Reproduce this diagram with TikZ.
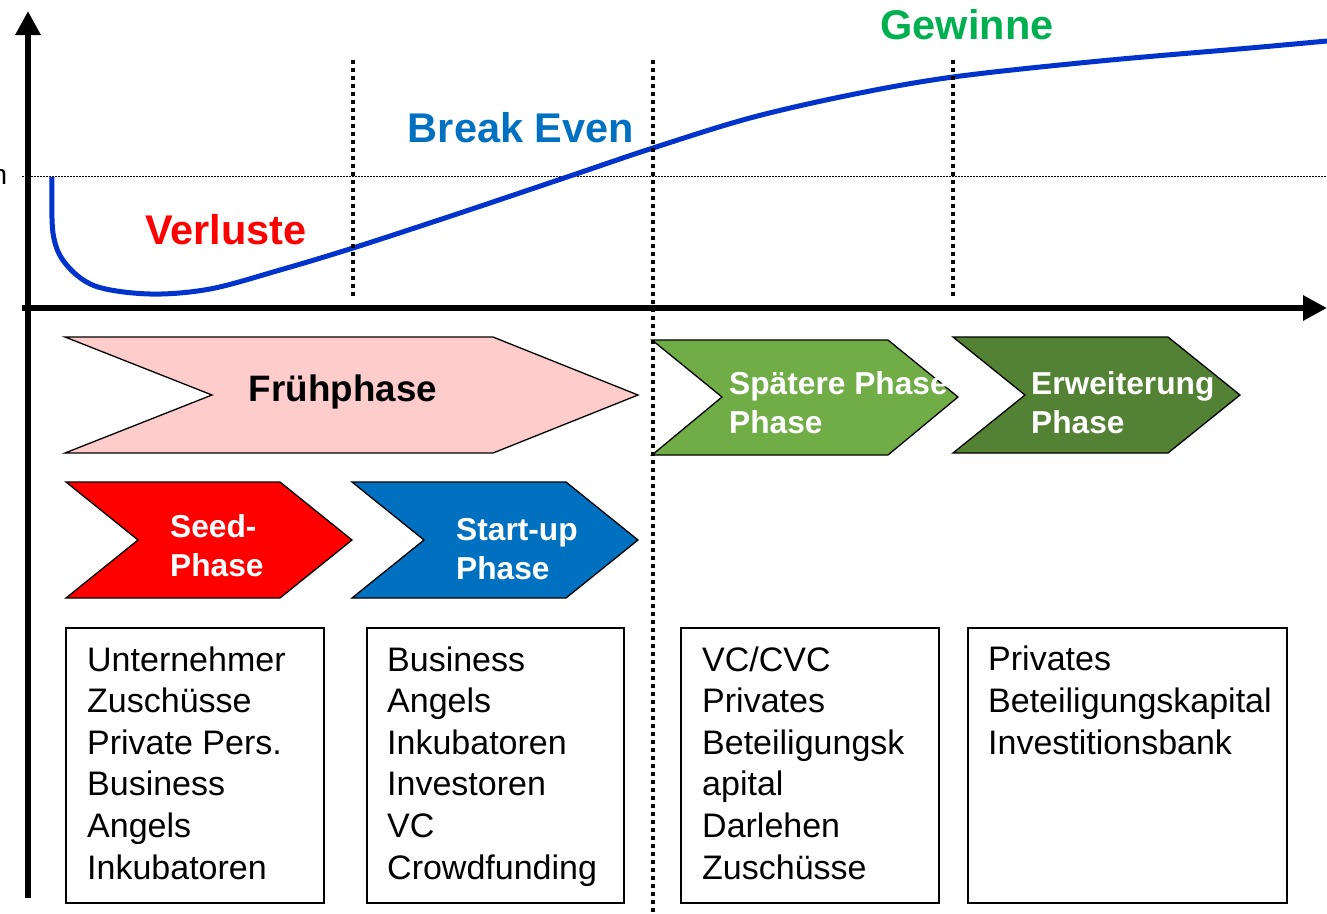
\documentclass[tikz,border=0pt]{standalone}
\usepackage{fontspec}
\setmainfont{Liberation Sans}
\usetikzlibrary{arrows.meta}
\definecolor{curveblue}{RGB}{0,51,204}
\definecolor{beblue}{RGB}{0,112,192}
\definecolor{gewgreen}{RGB}{0,176,80}
\definecolor{pinkfill}{RGB}{255,204,204}
\definecolor{spgreen}{RGB}{112,173,71}
\definecolor{ewgreen}{RGB}{84,130,53}
\definecolor{seedred}{RGB}{255,0,0}
\begin{document}
\begin{tikzpicture}[x=1pt,y=-1pt,
  chev/.style={draw=black,line width=1.3pt,line join=miter},
  lbl/.style={font=\bfseries\fontsize{41.5}{48}\selectfont, anchor=base, inner sep=0pt},
  chevtxt/.style={font=\bfseries\fontsize{31.7}{38.5}\selectfont, text=white, align=left, anchor=base west, inner sep=0pt},
  boxtxt/.style={font=\fontsize{34}{41.6}\selectfont, align=left, anchor=base west, inner sep=0pt},
  fund/.style={draw=black, line width=1.3pt},
  vdot/.style={line width=4pt, dash pattern=on 4pt off 4pt},
  axis/.style={line width=6pt, -{Triangle[length=24pt,width=24pt]}},
]
\useasboundingbox (0,0) rectangle (1327,913);

% dotted reference line
\coordinate (hl) at (22,176);
\coordinate (hr) at (1327,176);
\draw[line width=1pt, dash pattern=on 1.5pt off 1.5pt] (hl) -- (hr);
\node[font=\fontsize{28}{30}\selectfont, anchor=base east, inner sep=0pt] (ntxt) at (7.5,184) {n};

% axes
\coordinate (yb) at (28,898);
\coordinate (yt) at (28,11);
\coordinate (xl) at (22,308);
\coordinate (xr) at (1327,308);
\draw[axis] (yb) -- (yt);
\draw[axis] (xl) -- (xr);

% curve
\draw[line width=5pt, curveblue, line cap=butt] plot[smooth, tension=0.55] coordinates {
 (52,177) (53,233) (65,263) (95,286) (150,294) (210,289) (280,270) (353,248)
 (460,213) (570,176) (653,148) (750,118) (850,95) (953,77) (1100,61) (1250,48) (1327,41)};

% labels
\node[lbl, text=seedred] (verluste) at (226,244) {Verluste};
\node[lbl, text=beblue] (breakeven) at (521,142) {Break Even};
\node[lbl, text=gewgreen] (gewinne) at (967,39) {Gewinne};

% chevrons
\draw[chev, fill=pinkfill] (65,337) -- (493,337) -- (638,395) -- (493,453) -- (65,453) -- (212,395) -- cycle;
\node[font=\bfseries\fontsize{36.8}{42}\selectfont, anchor=base, inner sep=0pt] (frueh) at (343,401) {Frühphase};

\draw[chev, fill=spgreen] (652,340) -- (888,340) -- (958,397) -- (888,455) -- (652,455) -- (722,397) -- cycle;
\node[chevtxt] (spaet) at (729,433) {Spätere Phase\\Phase};

\draw[chev, fill=ewgreen] (953,337) -- (1168,337) -- (1240,395) -- (1168,453) -- (953,453) -- (1025,395) -- cycle;
\node[chevtxt] (erw) at (1031,433) {Erweiterung\\Phase};

\draw[chev, fill=seedred] (66,482) -- (280,482) -- (352,540) -- (280,598) -- (66,598) -- (138,540) -- cycle;
\node[chevtxt] (seed) at (170,576) {Seed-\\Phase};

\draw[chev, fill=beblue] (352,482) -- (566,482) -- (638,540) -- (566,598) -- (352,598) -- (424,540) -- cycle;
\node[chevtxt] (startup) at (456,579) {Start-up\\Phase};

% funding boxes
\draw[fund] (66,628) rectangle (324,903);
\node[boxtxt] (b1) at (87,879) {Unternehmer\\Zuschüsse\\Private Pers.\\Business\\Angels\\Inkubatoren};
\draw[fund] (367,628) rectangle (624,903);
\node[boxtxt] (b2) at (387,879) {Business\\Angels\\Inkubatoren\\Investoren\\VC\\Crowdfunding};
\draw[fund] (681,628) rectangle (939,903);
\node[boxtxt] (b3) at (702,879) {VC/CVC\\Privates\\Beteiligungsk\\apital\\Darlehen\\Zuschüsse};
\draw[fund] (968,628) rectangle (1287,903);
\node[boxtxt] (b4) at (988,754) {Privates\\Beteiligungskapital\\Investitionsbank};

% vertical dotted lines
\coordinate (v1t) at (353,60); \coordinate (v1b) at (353,298);
\coordinate (v2t) at (653,60); \coordinate (v2b) at (653,913);
\coordinate (v3t) at (953,60); \coordinate (v3b) at (953,298);
\draw[vdot] (v1t) -- (v1b);
\draw[vdot] (v2t) -- (v2b);
\draw[vdot] (v3t) -- (v3b);
\end{tikzpicture}
\end{document}
